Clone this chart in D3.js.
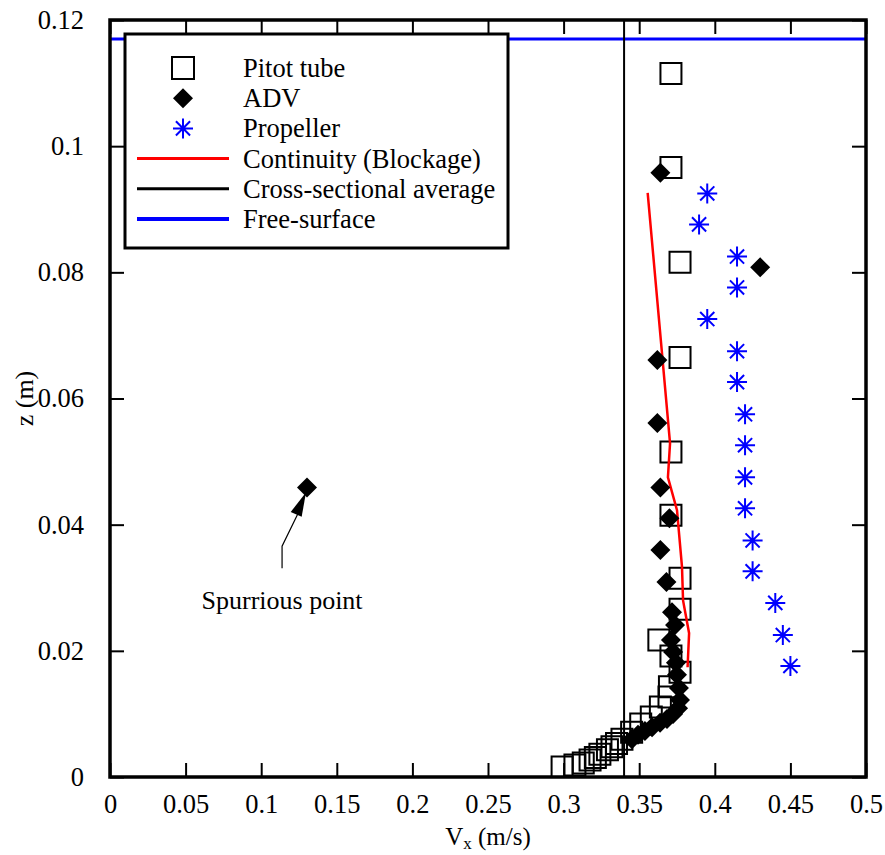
<!DOCTYPE html>
<html>
<head>
<meta charset="utf-8">
<script src="https://cdn.jsdelivr.net/npm/d3@7"></script>
<style>
  body { margin: 0; background: #fff; }
  svg text { font-family: "Liberation Serif", "Times New Roman", serif; fill: #000; }
</style>
</head>
<body>
<div id="chart"></div>
<script>
const width = 885
const height = 855
const margin = { top: 20, right: 19, bottom: 78, left: 110 }

// data: [Vx (m/s), z (m)]
const pitotTube = [
  [0.299, 0.0016], [0.3075, 0.0019], [0.313, 0.0022], [0.3175, 0.0027], [0.321, 0.0031],
  [0.324, 0.0036], [0.329, 0.0043], [0.332, 0.0048], [0.335, 0.0053], [0.3386, 0.006],
  [0.345, 0.0071], [0.351, 0.0084], [0.358, 0.0095], [0.364, 0.0111], [0.3697, 0.0127],
  [0.370, 0.0143], [0.377, 0.0166], [0.371, 0.0192], [0.363, 0.0217], [0.377, 0.0266],
  [0.377, 0.0315], [0.371, 0.0415], [0.371, 0.0515], [0.377, 0.0665], [0.377, 0.0816],
  [0.371, 0.0966], [0.371, 0.1115]
]
const adv = [
  [0.3452, 0.006], [0.3492, 0.0067], [0.3538, 0.0073], [0.3585, 0.0079], [0.3638, 0.0086],
  [0.3684, 0.0092], [0.3724, 0.0100], [0.3757, 0.0109], [0.377, 0.0122], [0.3763, 0.0141],
  [0.375, 0.0162], [0.3743, 0.0181], [0.3724, 0.0198], [0.371, 0.0217], [0.3737, 0.0241],
  [0.3717, 0.0261], [0.368, 0.0309], [0.364, 0.036], [0.370, 0.041], [0.364, 0.0459],
  [0.362, 0.0561], [0.362, 0.0661], [0.430, 0.0808], [0.364, 0.0958], [0.1303, 0.0459]
]
const propeller = [
  [0.450, 0.0176], [0.445, 0.0225], [0.440, 0.0276], [0.425, 0.0326], [0.425, 0.0375],
  [0.420, 0.0426], [0.420, 0.0475], [0.420, 0.0526], [0.420, 0.0575], [0.4147, 0.0626],
  [0.4147, 0.0675], [0.395, 0.0726], [0.4147, 0.0776], [0.4147, 0.0825], [0.3896, 0.0876],
  [0.395, 0.0925]
]
const continuity = [
  [0.382, 0.0174], [0.383, 0.0228], [0.379, 0.028], [0.3783, 0.0333], [0.375, 0.0423],
  [0.369, 0.0475], [0.3704, 0.0529], [0.3556, 0.0926]
]
const crossSectionAvg = 0.34
const freeSurface = 0.117
const spurious = { label: [0.1138, 0.0266], arrow: [[0.1138, 0.0331], [0.1138, 0.0366], [0.1296, 0.0451]] }

const xTicks = [0, 0.05, 0.1, 0.15, 0.2, 0.25, 0.3, 0.35, 0.4, 0.45, 0.5]
const yTicks = [0, 0.02, 0.04, 0.06, 0.08, 0.1, 0.12]
const legendItems = [
  { label: "Pitot tube", kind: "square" },
  { label: "ADV", kind: "diamond" },
  { label: "Propeller", kind: "star" },
  { label: "Continuity (Blockage)", kind: "line", color: "#ff0000", w: 3 },
  { label: "Cross-sectional average", kind: "line", color: "#000", w: 3 },
  { label: "Free-surface", kind: "line", color: "#0000ff", w: 4 }
]

const svg = d3.select("#chart").append("svg")
  .attr("width", width)
  .attr("height", height)

const x = d3.scaleLinear().domain([0, 0.5]).range([margin.left, width - margin.right])
const y = d3.scaleLinear().domain([0, 0.12]).range([height - margin.bottom, margin.top])

const tickLen = 14
const fontSize = 26.5

// marker shapes
const squarePath = (s) => `M${-s},${-s}h${2 * s}v${2 * s}h${-2 * s}Z`
const diamondPath = (s) => `M0,${-s}L${s},0L0,${s}L${-s},0Z`
function starPath(r) {
  let d = ""
  for (let i = 0; i < 4; i++) {
    const a = i * Math.PI / 4
    const dx = r * Math.sin(a), dy = r * Math.cos(a)
    d += `M${-dx},${-dy}L${dx},${dy}`
  }
  return d
}

const plot = svg.append("g")
  .attr("clip-path", "url(#clip)")
svg.append("clipPath").attr("id", "clip")
  .append("rect")
  .attr("x", margin.left).attr("y", margin.top)
  .attr("width", x(0.5) - x(0)).attr("height", y(0) - y(0.12))

// axes with inward ticks on all sides
svg.append("g")
  .attr("transform", `translate(0,${y(0)})`)
  .call(d3.axisBottom(x).tickValues(xTicks).tickSizeInner(-tickLen).tickSizeOuter(0).tickPadding(17).tickFormat(d3.format("~g")))
svg.append("g")
  .attr("transform", `translate(0,${y(0.12)})`)
  .call(d3.axisTop(x).tickValues(xTicks).tickSizeInner(-tickLen).tickSizeOuter(0).tickFormat(""))
svg.append("g")
  .attr("transform", `translate(${x(0)},0)`)
  .call(d3.axisLeft(y).tickValues(yTicks).tickSizeInner(-tickLen).tickSizeOuter(0).tickPadding(26).tickFormat(d3.format("~g")))
svg.append("g")
  .attr("transform", `translate(${x(0.5)},0)`)
  .call(d3.axisRight(y).tickValues(yTicks).tickSizeInner(-tickLen).tickSizeOuter(0).tickFormat(""))

svg.selectAll(".domain").remove()
svg.selectAll(".tick line").attr("stroke", "#000").attr("stroke-width", 2)
svg.selectAll(".tick text")
  .style("font-family", '"Liberation Serif", serif')
  .style("font-size", fontSize + "px")
  .attr("fill", "#000")

// reference lines
plot.append("line")
  .attr("x1", x(0)).attr("x2", x(0.5))
  .attr("y1", y(freeSurface)).attr("y2", y(freeSurface))
  .attr("stroke", "#0000ff").attr("stroke-width", 3)
plot.append("line")
  .attr("x1", x(crossSectionAvg)).attr("x2", x(crossSectionAvg))
  .attr("y1", y(0)).attr("y2", y(0.12))
  .attr("stroke", "#000").attr("stroke-width", 2)

// pitot squares
plot.selectAll(".pitot").data(pitotTube).join("path")
  .attr("class", "pitot")
  .attr("transform", d => `translate(${x(d[0])},${y(d[1])})`)
  .attr("d", squarePath(10.5))
  .attr("fill", "none").attr("stroke", "#000").attr("stroke-width", 2)

// continuity line
plot.append("path")
  .datum(continuity)
  .attr("d", d3.line().x(d => x(d[0])).y(d => y(d[1])))
  .attr("fill", "none").attr("stroke", "#ff0000").attr("stroke-width", 2.5)

// adv diamonds
plot.selectAll(".adv").data(adv).join("path")
  .attr("class", "adv")
  .attr("transform", d => `translate(${x(d[0])},${y(d[1])})`)
  .attr("d", diamondPath(10))
  .attr("fill", "#000")

// propeller stars
plot.selectAll(".prop").data(propeller).join("path")
  .attr("class", "prop")
  .attr("transform", d => `translate(${x(d[0])},${y(d[1])})`)
  .attr("d", starPath(10))
  .attr("fill", "none").attr("stroke", "#0000ff").attr("stroke-width", 2)

// spurious point annotation
const arrowPts = spurious.arrow.map(p => [x(p[0]), y(p[1])])
svg.append("path")
  .attr("d", d3.line()(arrowPts.slice(0, 2).concat([[arrowPts[2][0] - 6, arrowPts[2][1] + 17]])))
  .attr("fill", "none").attr("stroke", "#000").attr("stroke-width", 1.2)
{
  const tip = arrowPts[2]
  const from = arrowPts[1]
  const ang = Math.atan2(tip[1] - from[1], tip[0] - from[0])
  const len = 24, half = 6
  const bx = tip[0] - len * Math.cos(ang), by = tip[1] - len * Math.sin(ang)
  const px = -Math.sin(ang) * half, py = Math.cos(ang) * half
  svg.append("path")
    .attr("d", `M${tip[0]},${tip[1]}L${bx + px},${by + py}L${bx - px},${by - py}Z`)
    .attr("fill", "#000")
}
svg.append("text")
  .attr("x", x(spurious.label[0])).attr("y", y(spurious.label[1]))
  .attr("text-anchor", "middle")
  .style("font-size", "26px")
  .text("Spurrious point")

// frame
svg.append("rect")
  .attr("x", x(0)).attr("y", y(0.12))
  .attr("width", x(0.5) - x(0)).attr("height", y(0) - y(0.12))
  .attr("fill", "none").attr("stroke", "#000").attr("stroke-width", 3.5)

// legend
const lg = svg.append("g")
lg.append("rect")
  .attr("x", 125).attr("y", 34).attr("width", 383).attr("height", 214)
  .attr("fill", "#fff").attr("stroke", "#000").attr("stroke-width", 3)
legendItems.forEach((it, i) => {
  const cy = 68 + i * 30.2
  if (it.kind === "square") {
    lg.append("path").attr("transform", `translate(183,${cy})`).attr("d", squarePath(11))
      .attr("fill", "none").attr("stroke", "#000").attr("stroke-width", 2)
  } else if (it.kind === "diamond") {
    lg.append("path").attr("transform", `translate(183,${cy})`).attr("d", diamondPath(10)).attr("fill", "#000")
  } else if (it.kind === "star") {
    lg.append("path").attr("transform", `translate(183,${cy})`).attr("d", starPath(10))
      .attr("fill", "none").attr("stroke", "#0000ff").attr("stroke-width", 2)
  } else {
    lg.append("line").attr("x1", 137).attr("x2", 229).attr("y1", cy).attr("y2", cy)
      .attr("stroke", it.color).attr("stroke-width", it.w)
  }
  lg.append("text").attr("x", 243).attr("y", cy + 9)
    .style("font-size", fontSize + "px").text(it.label)
})

// axis titles
const xt = svg.append("text")
  .attr("x", (x(0) + x(0.5)) / 2).attr("y", 845)
  .attr("text-anchor", "middle")
  .style("font-size", "25px")
xt.append("tspan").text("V")
xt.append("tspan").attr("dy", 4).style("font-size", "17px").text("x")
xt.append("tspan").attr("dy", -4).text(" (m/s)")

svg.append("text")
  .attr("transform", `translate(33,${(y(0) + y(0.12)) / 2}) rotate(-90)`)
  .attr("text-anchor", "middle")
  .style("font-size", "26px")
  .text("z (m)")
</script>
</body>
</html>
